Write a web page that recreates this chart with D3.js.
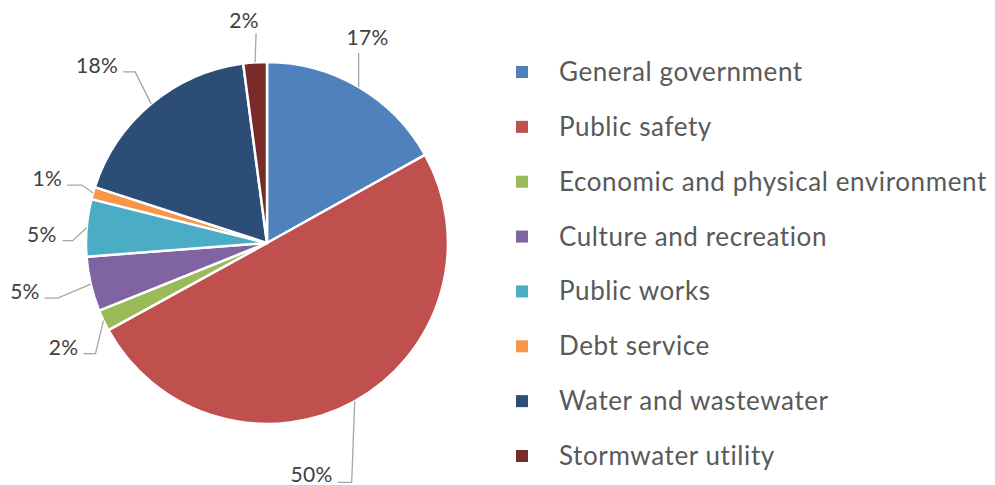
<!DOCTYPE html>
<html>
<head>
<meta charset="utf-8" />
<script src="https://d3js.org/d3.v7.min.js"></script>
<style>
  body { margin: 0; background: #fff; }
  svg { display: block; font-family: Lato, "Open Sans", sans-serif; }
</style>
</head>
<body>
<div id="visu"></div>
<script>
// categories and values (percent of total)
const categories = ["General government", "Public safety", "Economic and physical environment",
  "Culture and recreation", "Public works", "Debt service", "Water and wastewater", "Stormwater utility"];
const values = [16.9, 50.1, 1.9, 4.9, 5.1, 1.1, 17.9, 2.1];
const labels = ["17%", "50%", "2%", "5%", "5%", "1%", "18%", "2%"];
const colors = ["#4F81BD", "#C0504D", "#9BBB59", "#8064A2", "#4BACC6", "#F79646", "#2C4D75", "#772C2A"];

// where each data label was dragged to (elbow offset from the slice edge, then horizontal run)
const labelLayout = [
  { ex: 0, ey: -34, run: 0, tx: 9, ty: -8, anchor: "middle" },
  { ex: -3, ey: 81, run: -14, tx: -5, ty: 0, anchor: "end" },
  { ex: -8, ey: 33, run: -12, tx: -5, ty: 1, anchor: "end" },
  { ex: -33, ey: 14, run: -13, tx: -5, ty: 1, anchor: "end" },
  { ex: -14, ey: 13, run: -10, tx: -6, ty: 1, anchor: "end" },
  { ex: -11, ey: -8, run: -15, tx: -5, ty: 1, anchor: "end" },
  { ex: -16, ey: -32, run: -12, tx: -5, ty: 1, anchor: "end" },
  { ex: 1, ey: -29, run: 0, tx: -12, ty: -5, anchor: "middle" }
];

const width = 995, height = 485;
const cx = 267, cy = 243, radius = 181;

const data = categories.map((c, i) => ({ name: c, value: values[i], label: labels[i], layout: labelLayout[i] }));
const couleur = d3.scaleOrdinal(colors).domain(categories);

const svg = d3.select("#visu").append("svg")
  .attr("width", width)
  .attr("height", height);

const pie = d3.pie().sort(null).value(d => d.value);
const arc = d3.arc().innerRadius(0).outerRadius(radius);
const edgeArc = d3.arc().innerRadius(radius).outerRadius(radius);

const g = svg.append("g").attr("transform", `translate(${cx},${cy})`);

g.selectAll("path.slice")
  .data(pie(data))
  .enter().append("path")
  .attr("class", "slice")
  .attr("d", arc)
  .style("fill", d => couleur(d.data.name))
  .style("stroke", "#fff")
  .style("stroke-width", 2.5)
  .style("stroke-linejoin", "round");

// leader lines + labels
const lab = g.selectAll("g.lab")
  .data(pie(data))
  .enter().append("g")
  .attr("class", "lab");

lab.append("polyline")
  .attr("points", d => {
    const [x0, y0] = edgeArc.centroid(d);
    const L = d.data.layout;
    const x1 = x0 + L.ex, y1 = y0 + L.ey;
    return [[x0, y0], [x1, y1], [x1 + L.run, y1]].map(p => p.join(",")).join(" ");
  })
  .style("fill", "none")
  .style("stroke", "#a6a6a6")
  .style("stroke-width", 1.3);

lab.append("text")
  .attr("x", d => edgeArc.centroid(d)[0] + d.data.layout.ex + d.data.layout.run + d.data.layout.tx)
  .attr("y", d => edgeArc.centroid(d)[1] + d.data.layout.ey + d.data.layout.ty)
  .attr("text-anchor", d => d.data.layout.anchor)
  .style("font-size", "21px")
  .style("letter-spacing", "0.3px")
  .style("fill", "#404040")
  .text(d => d.data.label);

// legend
const legendY = d3.scalePoint().domain(categories).range([72, 456]);

const legend = svg.append("g").selectAll("g")
  .data(categories)
  .enter().append("g")
  .attr("transform", d => `translate(0,${legendY(d)})`);

legend.append("rect")
  .attr("x", 516)
  .attr("y", -6)
  .attr("width", 12)
  .attr("height", 12)
  .style("fill", d => couleur(d));

legend.append("text")
  .attr("x", 559)
  .attr("y", 9)
  .style("font-size", "26px")
  .style("letter-spacing", "0.6px")
  .style("fill", "#595959")
  .text(d => d);
</script>
</body>
</html>
